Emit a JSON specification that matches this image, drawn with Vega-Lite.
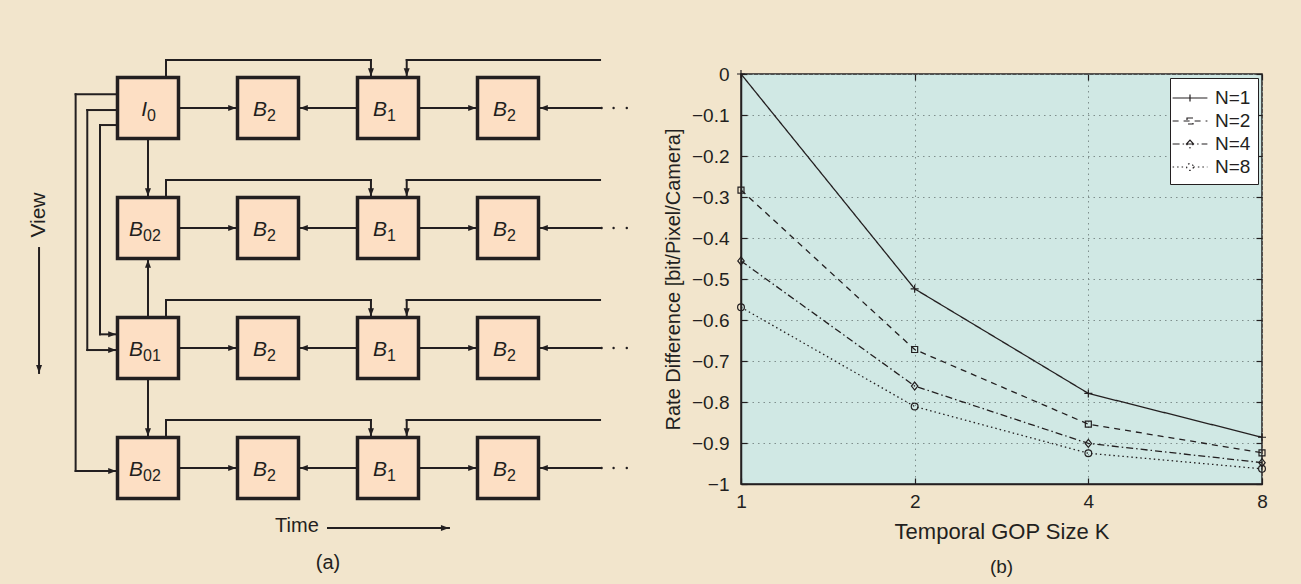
{
  "$schema": "https://vega.github.io/schema/vega-lite/v6.json",
  "background": "#f2e5cc",
  "padding": {"left": 0, "top": 0, "right": 40, "bottom": 20},
  "bounds": "flush",
  "center": true,
  "spacing": 101,
  "resolve": {"legend": {"strokeDash": "independent"}},
  "config": {
    "font": "Liberation Sans",
    "view": {"stroke": null},
    "axis": {"labelFont": "Liberation Sans", "labelFontSize": 19, "labelColor": "#231f20", "titleFont": "Liberation Sans", "titleFontSize": 20, "titleFontWeight": "normal", "titleColor": "#231f20", "tickColor": "#231f20", "domainColor": "#231f20", "domainWidth": 1.5, "tickWidth": 1.2, "gridColor": "#7f8f8d", "gridDash": [1.5, 4], "gridWidth": 1, "labelFlush": false, "labelOverlap": false}
  },
  "datasets": {
    "boxes": [
      {"x": 0, "y": 0, "letter": "I", "sub": "0"},
      {"x": 1, "y": 0, "letter": "B", "sub": "2"},
      {"x": 2, "y": 0, "letter": "B", "sub": "1"},
      {"x": 3, "y": 0, "letter": "B", "sub": "2"},
      {"x": 0, "y": 1, "letter": "B", "sub": "02"},
      {"x": 1, "y": 1, "letter": "B", "sub": "2"},
      {"x": 2, "y": 1, "letter": "B", "sub": "1"},
      {"x": 3, "y": 1, "letter": "B", "sub": "2"},
      {"x": 0, "y": 2, "letter": "B", "sub": "01"},
      {"x": 1, "y": 2, "letter": "B", "sub": "2"},
      {"x": 2, "y": 2, "letter": "B", "sub": "1"},
      {"x": 3, "y": 2, "letter": "B", "sub": "2"},
      {"x": 0, "y": 3, "letter": "B", "sub": "02"},
      {"x": 1, "y": 3, "letter": "B", "sub": "2"},
      {"x": 2, "y": 3, "letter": "B", "sub": "1"},
      {"x": 3, "y": 3, "letter": "B", "sub": "2"}
    ],
    "segs": [
      {"x": 0.265, "y": 0, "x2": 0.735, "y2": 0},
      {"x": 1.735, "y": 0, "x2": 1.265, "y2": 0},
      {"x": 2.265, "y": 0, "x2": 2.735, "y2": 0},
      {"x": 3.767, "y": 0, "x2": 3.265, "y2": 0},
      {"x": 0.15, "y": -0.265, "x2": 0.15, "y2": -0.4},
      {"x": 0.15, "y": -0.4, "x2": 1.858, "y2": -0.4},
      {"x": 1.858, "y": -0.4, "x2": 1.858, "y2": -0.265},
      {"x": 3.767, "y": -0.4, "x2": 2.156, "y2": -0.4},
      {"x": 2.156, "y": -0.4, "x2": 2.156, "y2": -0.265},
      {"x": 0.265, "y": 1, "x2": 0.735, "y2": 1},
      {"x": 1.735, "y": 1, "x2": 1.265, "y2": 1},
      {"x": 2.265, "y": 1, "x2": 2.735, "y2": 1},
      {"x": 3.767, "y": 1, "x2": 3.265, "y2": 1},
      {"x": 0.15, "y": 0.735, "x2": 0.15, "y2": 0.6},
      {"x": 0.15, "y": 0.6, "x2": 1.858, "y2": 0.6},
      {"x": 1.858, "y": 0.6, "x2": 1.858, "y2": 0.735},
      {"x": 3.767, "y": 0.6, "x2": 2.156, "y2": 0.6},
      {"x": 2.156, "y": 0.6, "x2": 2.156, "y2": 0.735},
      {"x": 0.265, "y": 2, "x2": 0.735, "y2": 2},
      {"x": 1.735, "y": 2, "x2": 1.265, "y2": 2},
      {"x": 2.265, "y": 2, "x2": 2.735, "y2": 2},
      {"x": 3.767, "y": 2, "x2": 3.265, "y2": 2},
      {"x": 0.15, "y": 1.735, "x2": 0.15, "y2": 1.6},
      {"x": 0.15, "y": 1.6, "x2": 1.858, "y2": 1.6},
      {"x": 1.858, "y": 1.6, "x2": 1.858, "y2": 1.735},
      {"x": 3.767, "y": 1.6, "x2": 2.156, "y2": 1.6},
      {"x": 2.156, "y": 1.6, "x2": 2.156, "y2": 1.735},
      {"x": 0.265, "y": 3, "x2": 0.735, "y2": 3},
      {"x": 1.735, "y": 3, "x2": 1.265, "y2": 3},
      {"x": 2.265, "y": 3, "x2": 2.735, "y2": 3},
      {"x": 3.767, "y": 3, "x2": 3.265, "y2": 3},
      {"x": 0.15, "y": 2.735, "x2": 0.15, "y2": 2.6},
      {"x": 0.15, "y": 2.6, "x2": 1.858, "y2": 2.6},
      {"x": 1.858, "y": 2.6, "x2": 1.858, "y2": 2.735},
      {"x": 3.767, "y": 2.6, "x2": 2.156, "y2": 2.6},
      {"x": 2.156, "y": 2.6, "x2": 2.156, "y2": 2.735},
      {"x": 0, "y": 0.265, "x2": 0, "y2": 0.735},
      {"x": 0, "y": 1.735, "x2": 0, "y2": 1.265},
      {"x": 0, "y": 2.265, "x2": 0, "y2": 2.735},
      {"x": -0.265, "y": -0.114, "x2": -0.603, "y2": -0.114},
      {"x": -0.603, "y": -0.114, "x2": -0.603, "y2": 3.025},
      {"x": -0.603, "y": 3.025, "x2": -0.265, "y2": 3.025},
      {"x": -0.265, "y": 0.017, "x2": -0.506, "y2": 0.017},
      {"x": -0.506, "y": 0.017, "x2": -0.506, "y2": 2.017},
      {"x": -0.506, "y": 2.017, "x2": -0.265, "y2": 2.017},
      {"x": -0.265, "y": 0.142, "x2": -0.4, "y2": 0.142},
      {"x": -0.4, "y": 0.142, "x2": -0.4, "y2": 1.886},
      {"x": -0.4, "y": 1.886, "x2": -0.265, "y2": 1.886},
      {"x": -0.908, "y": 1.167, "x2": -0.908, "y2": 2.208},
      {"x": 1.5, "y": 3.5, "x2": 2.508, "y2": 3.5}
    ],
    "heads": [
      {"x": 0.735, "y": 0, "ang": 90}, {"x": 1.265, "y": 0, "ang": 270}, {"x": 2.735, "y": 0, "ang": 90}, {"x": 3.265, "y": 0, "ang": 270}, {"x": 1.858, "y": -0.265, "ang": 180}, {"x": 2.156, "y": -0.265, "ang": 180},
      {"x": 0.735, "y": 1, "ang": 90}, {"x": 1.265, "y": 1, "ang": 270}, {"x": 2.735, "y": 1, "ang": 90}, {"x": 3.265, "y": 1, "ang": 270}, {"x": 1.858, "y": 0.735, "ang": 180}, {"x": 2.156, "y": 0.735, "ang": 180},
      {"x": 0.735, "y": 2, "ang": 90}, {"x": 1.265, "y": 2, "ang": 270}, {"x": 2.735, "y": 2, "ang": 90}, {"x": 3.265, "y": 2, "ang": 270}, {"x": 1.858, "y": 1.735, "ang": 180}, {"x": 2.156, "y": 1.735, "ang": 180},
      {"x": 0.735, "y": 3, "ang": 90}, {"x": 1.265, "y": 3, "ang": 270}, {"x": 2.735, "y": 3, "ang": 90}, {"x": 3.265, "y": 3, "ang": 270}, {"x": 1.858, "y": 2.735, "ang": 180}, {"x": 2.156, "y": 2.735, "ang": 180},
      {"x": 0, "y": 0.735, "ang": 180}, {"x": 0, "y": 1.265, "ang": 0}, {"x": 0, "y": 2.735, "ang": 180},
      {"x": -0.265, "y": 3.025, "ang": 90}, {"x": -0.265, "y": 2.017, "ang": 90}, {"x": -0.265, "y": 1.886, "ang": 90},
      {"x": -0.908, "y": 2.208, "ang": 180}, {"x": 2.508, "y": 3.5, "ang": 90}
    ],
    "dots": [
      {"x": 3.78, "y": 0}, {"x": 3.88, "y": 0}, {"x": 3.99, "y": 0},
      {"x": 3.78, "y": 1}, {"x": 3.88, "y": 1}, {"x": 3.99, "y": 1},
      {"x": 3.78, "y": 2}, {"x": 3.88, "y": 2}, {"x": 3.99, "y": 2},
      {"x": 3.78, "y": 3}, {"x": 3.88, "y": 3}, {"x": 3.99, "y": 3}
    ],
    "labels": [
      {"x": -0.908, "y": 0.892, "label": "View"},
      {"x": 1.241, "y": 3.483, "label": "Time"},
      {"x": 1.5, "y": 3.79, "label": "(a)"}
    ],
    "perf": [
      {"K": 1, "N": "N=1", "rate": 0},
      {"K": 2, "N": "N=1", "rate": -0.524},
      {"K": 4, "N": "N=1", "rate": -0.779},
      {"K": 8, "N": "N=1", "rate": -0.886},
      {"K": 1, "N": "N=2", "rate": -0.283},
      {"K": 2, "N": "N=2", "rate": -0.672},
      {"K": 4, "N": "N=2", "rate": -0.854},
      {"K": 8, "N": "N=2", "rate": -0.924},
      {"K": 1, "N": "N=4", "rate": -0.456},
      {"K": 2, "N": "N=4", "rate": -0.761},
      {"K": 4, "N": "N=4", "rate": -0.901},
      {"K": 8, "N": "N=4", "rate": -0.948},
      {"K": 1, "N": "N=8", "rate": -0.569},
      {"K": 2, "N": "N=8", "rate": -0.811},
      {"K": 4, "N": "N=8", "rate": -0.925},
      {"K": 8, "N": "N=8", "rate": -0.963}
    ]
  },
  "hconcat": [
    {
      "width": 640,
      "height": 558,
      "view": {"fill": "#f2e5cc", "stroke": null},
      "layer": [
        {
          "data": {"name": "segs"},
          "mark": {"type": "rule", "color": "#231f20", "strokeWidth": 2, "strokeCap": "square"},
          "encoding": {
            "x": {"field": "x", "type": "quantitative", "scale": {"domain": [-1.2333, 4.1], "nice": false, "zero": false}, "axis": null},
            "y": {"field": "y", "type": "quantitative", "scale": {"domain": [-0.9, 3.75], "nice": false, "zero": false, "reverse": true}, "axis": null},
            "x2": {"field": "x2"},
            "y2": {"field": "y2"}
          }
        },
        {
          "data": {"name": "heads"},
          "mark": {"type": "point", "shape": "M0,0L-0.6,1.6L0.6,1.6Z", "size": 100, "filled": true, "color": "#231f20", "opacity": 1},
          "encoding": {
            "x": {"field": "x", "type": "quantitative", "scale": {"domain": [-1.2333, 4.1], "nice": false, "zero": false}, "axis": null},
            "y": {"field": "y", "type": "quantitative", "scale": {"domain": [-0.9, 3.75], "nice": false, "zero": false, "reverse": true}, "axis": null},
            "angle": {"field": "ang", "type": "quantitative", "scale": null}
          }
        },
        {
          "data": {"name": "dots"},
          "mark": {"type": "point", "shape": "circle", "size": 6, "filled": true, "color": "#231f20", "opacity": 1},
          "encoding": {
            "x": {"field": "x", "type": "quantitative", "scale": {"domain": [-1.2333, 4.1], "nice": false, "zero": false}, "axis": null},
            "y": {"field": "y", "type": "quantitative", "scale": {"domain": [-0.9, 3.75], "nice": false, "zero": false, "reverse": true}, "axis": null}
          }
        },
        {
          "data": {"name": "boxes"},
          "mark": {"type": "point", "shape": "square", "size": 3721, "filled": true, "fill": "#fddfc4", "stroke": "#231f20", "strokeWidth": 3.5, "opacity": 1},
          "encoding": {
            "x": {"field": "x", "type": "quantitative", "scale": {"domain": [-1.2333, 4.1], "nice": false, "zero": false}, "axis": null},
            "y": {"field": "y", "type": "quantitative", "scale": {"domain": [-0.9, 3.75], "nice": false, "zero": false, "reverse": true}, "axis": null}
          }
        },
        {
          "data": {"name": "boxes"},
          "transform": [{"filter": "length(datum.sub) == 2"}],
          "mark": {"type": "text", "align": "right", "baseline": "alphabetic", "fontStyle": "italic", "fontSize": 21, "dx": -5, "dy": 8, "color": "#231f20"},
          "encoding": {
            "x": {"field": "x", "type": "quantitative", "scale": {"domain": [-1.2333, 4.1], "nice": false, "zero": false}, "axis": null},
            "y": {"field": "y", "type": "quantitative", "scale": {"domain": [-0.9, 3.75], "nice": false, "zero": false, "reverse": true}, "axis": null},
            "text": {"field": "letter"}
          }
        },
        {
          "data": {"name": "boxes"},
          "transform": [{"filter": "length(datum.sub) == 2"}],
          "mark": {"type": "text", "align": "left", "baseline": "alphabetic", "fontSize": 16, "dx": -5, "dy": 13, "color": "#231f20"},
          "encoding": {
            "x": {"field": "x", "type": "quantitative", "scale": {"domain": [-1.2333, 4.1], "nice": false, "zero": false}, "axis": null},
            "y": {"field": "y", "type": "quantitative", "scale": {"domain": [-0.9, 3.75], "nice": false, "zero": false, "reverse": true}, "axis": null},
            "text": {"field": "sub"}
          }
        },
        {
          "data": {"name": "boxes"},
          "transform": [{"filter": "length(datum.sub) == 1"}],
          "mark": {"type": "text", "align": "right", "baseline": "alphabetic", "fontStyle": "italic", "fontSize": 21, "dx": -1, "dy": 8, "color": "#231f20"},
          "encoding": {
            "x": {"field": "x", "type": "quantitative", "scale": {"domain": [-1.2333, 4.1], "nice": false, "zero": false}, "axis": null},
            "y": {"field": "y", "type": "quantitative", "scale": {"domain": [-0.9, 3.75], "nice": false, "zero": false, "reverse": true}, "axis": null},
            "text": {"field": "letter"}
          }
        },
        {
          "data": {"name": "boxes"},
          "transform": [{"filter": "length(datum.sub) == 1"}],
          "mark": {"type": "text", "align": "left", "baseline": "alphabetic", "fontSize": 16, "dx": -1, "dy": 13, "color": "#231f20"},
          "encoding": {
            "x": {"field": "x", "type": "quantitative", "scale": {"domain": [-1.2333, 4.1], "nice": false, "zero": false}, "axis": null},
            "y": {"field": "y", "type": "quantitative", "scale": {"domain": [-0.9, 3.75], "nice": false, "zero": false, "reverse": true}, "axis": null},
            "text": {"field": "sub"}
          }
        },
        {
          "data": {"name": "labels"},
          "transform": [{"filter": "datum.label == 'View'"}],
          "mark": {"type": "text", "align": "center", "baseline": "middle", "fontSize": 21, "angle": 270, "color": "#231f20"},
          "encoding": {
            "x": {"field": "x", "type": "quantitative", "scale": {"domain": [-1.2333, 4.1], "nice": false, "zero": false}, "axis": null},
            "y": {"field": "y", "type": "quantitative", "scale": {"domain": [-0.9, 3.75], "nice": false, "zero": false, "reverse": true}, "axis": null},
            "text": {"field": "label"}
          }
        },
        {
          "data": {"name": "labels"},
          "transform": [{"filter": "datum.label != 'View'"}],
          "mark": {"type": "text", "align": "center", "baseline": "middle", "fontSize": 20, "color": "#231f20"},
          "encoding": {
            "x": {"field": "x", "type": "quantitative", "scale": {"domain": [-1.2333, 4.1], "nice": false, "zero": false}, "axis": null},
            "y": {"field": "y", "type": "quantitative", "scale": {"domain": [-0.9, 3.75], "nice": false, "zero": false, "reverse": true}, "axis": null},
            "text": {"field": "label"}
          }
        }
      ]
    },
    {
      "width": 521,
      "height": 410,
      "view": {"fill": "#d0e8e4", "stroke": "#231f20", "strokeWidth": 1.5},
      "title": {"text": "(b)", "orient": "bottom", "fontSize": 19, "fontWeight": "normal", "color": "#231f20", "font": "Liberation Sans", "offset": 16},
      "data": {"name": "perf"},
      "layer": [
        {
          "mark": {"type": "line", "color": "#231f20", "strokeWidth": 1.3},
          "encoding": {
            "x": {"field": "K", "type": "quantitative", "scale": {"type": "log", "base": 2, "domain": [1, 8], "nice": false}, "axis": {"orient": "bottom", "values": [1, 2, 4, 8], "format": "d", "title": "Temporal GOP Size K", "titleFontSize": 22, "grid": true, "tickSize": -6, "labelPadding": 14, "titlePadding": 10}},
            "y": {"field": "rate", "type": "quantitative", "scale": {"domain": [-1, 0], "nice": false, "zero": false}, "axis": {"orient": "left", "values": [-1, -0.9, -0.8, -0.7, -0.6, -0.5, -0.4, -0.3, -0.2, -0.1, 0], "format": ".1~f", "title": "Rate Difference [bit/Pixel/Camera]", "grid": true, "tickSize": -6, "labelPadding": 18, "titlePadding": 8}},
            "strokeDash": {
              "field": "N", "type": "nominal",
              "scale": {"domain": ["N=1", "N=2", "N=4", "N=8"], "range": [[1, 0], [6, 5], [7, 3, 1.5, 3], [1.5, 3]]},
              "legend": {
                "title": null, "orient": "top-right", "offset": 4, "padding": 7,
                "fillColor": "white", "strokeColor": "#231f20",
                "symbolSize": 576, "symbolStrokeWidth": 1.2, "symbolStrokeColor": "#231f20", "symbolFillColor": "transparent",
                "labelFontSize": 19, "labelColor": "#231f20", "labelFont": "Liberation Sans", "labelOffset": 12, "rowPadding": 0,
                "encode": {"symbols": {"update": {"shape": {"signal": "datum.value == 'N=1' ? 'M-1.45,0H1.45M0,-0.3V0.3' : datum.value == 'N=2' ? 'M-1.45,0H1.45M-0.25,-0.25H0.25V0.25H-0.25Z' : datum.value == 'N=4' ? 'M-1.45,0H1.45M0,-0.33L0.3,0L0,0.33L-0.3,0Z' : 'M-1.45,0H-0.28M0.28,0H1.45M0.28,0A0.28,0.28,0,1,1,-0.28,0A0.28,0.28,0,1,1,0.28,0Z'"}, "fill": {"value": "transparent"}}}}
              }
            }
          }
        },
        {
          "mark": {"type": "point", "filled": false, "color": "#231f20", "strokeWidth": 1.2, "size": 64, "opacity": 1},
          "encoding": {
            "x": {"field": "K", "type": "quantitative", "scale": {"type": "log", "base": 2, "domain": [1, 8], "nice": false}, "axis": {"orient": "top", "values": [1, 2, 4, 8], "labels": false, "title": null, "grid": false, "domain": false, "tickSize": -6}},
            "y": {"field": "rate", "type": "quantitative", "scale": {"domain": [-1, 0], "nice": false, "zero": false}, "axis": {"orient": "right", "values": [-1, -0.9, -0.8, -0.7, -0.6, -0.5, -0.4, -0.3, -0.2, -0.1, 0], "labels": false, "title": null, "grid": false, "domain": false, "tickSize": -6}},
            "shape": {
              "condition": [
                {"test": "datum.N == 'N=1'", "value": "M-1,0H1M0,-1V1"},
                {"test": "datum.N == 'N=2'", "value": "M-0.75,-0.75H0.75V0.75H-0.75Z"},
                {"test": "datum.N == 'N=4'", "value": "M0,-1L0.8,0L0,1L-0.8,0Z"}
              ],
              "value": "M0.85,0A0.85,0.85,0,1,1,-0.85,0A0.85,0.85,0,1,1,0.85,0Z"
            }
          }
        }
      ],
      "resolve": {"axis": {"x": "independent", "y": "independent"}}
    }
  ]
}
